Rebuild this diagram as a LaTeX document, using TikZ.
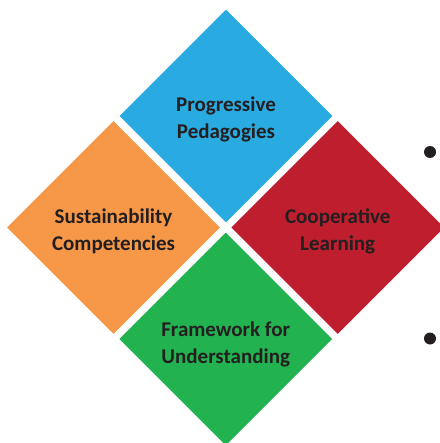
\documentclass[tikz,border=0pt]{standalone}
\usepackage{fontspec}
\setmainfont{Carlito}
\usetikzlibrary{shapes.geometric}
\definecolor{pblue}{RGB}{41,171,226}
\definecolor{porange}{RGB}{247,152,72}
\definecolor{pred}{RGB}{190,30,45}
\definecolor{pgreen}{RGB}{35,178,80}
\definecolor{ptext}{RGB}{35,31,32}
\tikzset{
  dia/.style={diamond, aspect=1, minimum width=213pt, minimum height=213pt, inner sep=0pt},
  lbl/.style={text=ptext, align=center, inner sep=0pt, yshift=-3.5pt, font=\fontsize{21}{27}\selectfont\bfseries},
  bullet/.style={circle, fill=ptext, minimum size=12pt, inner sep=0pt}
}
\begin{document}
\begin{tikzpicture}[x=1pt,y=-1pt]
\useasboundingbox (0,0) rectangle (439,443);
\node[dia, fill=pblue] (pp) at (226,116) {};
\node[dia, fill=porange] (sc) at (113.5,227.5) {};
\node[dia, fill=pred] (cl) at (337.7,227.5) {};
\node[dia, fill=pgreen] (ff) at (225.7,339) {};
\node[lbl] (ppt) at (pp.center) {Progressive\\Pedagogies};
\node[lbl] (sct) at (sc.center) {Sustainability\\Competencies};
\node[lbl] (clt) at (cl.center) {Cooperative\\Learning};
\node[lbl, yshift=-2pt] (fft) at (ff.center) {Framework for\\Understanding};
\node[bullet] (b1) at (430,152) {};
\node[bullet] (b2) at (430,338.5) {};
\end{tikzpicture}
\end{document}
